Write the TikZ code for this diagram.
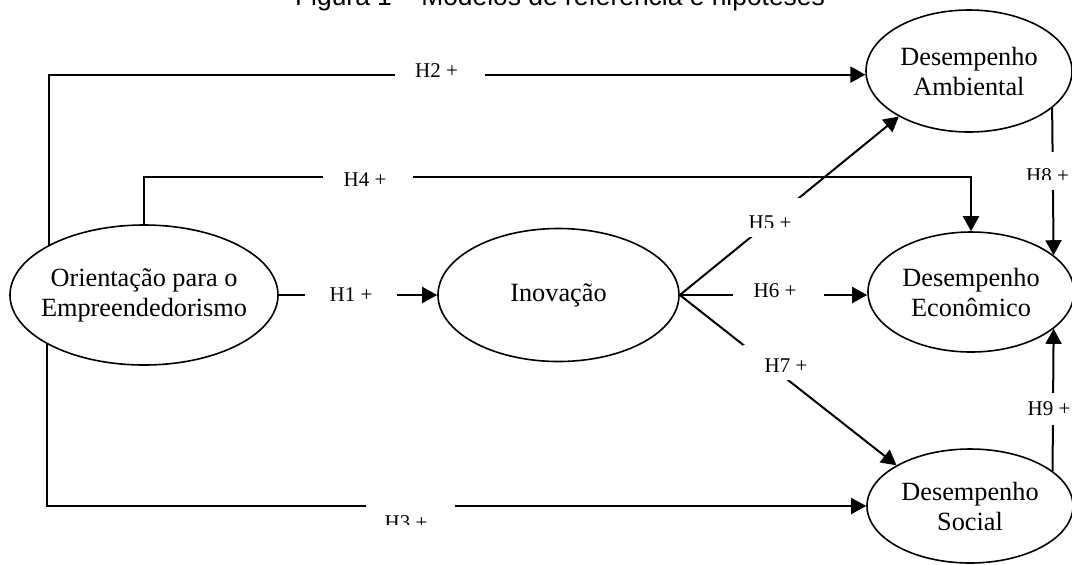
\documentclass[tikz,border=0pt]{standalone}
\usepackage{fontspec}
\setmainfont{Liberation Serif}
\newfontfamily\capfont{Liberation Sans}
\usetikzlibrary{shapes.geometric,arrows.meta}
% zero-width line so the ellipse keeps its given size
\newcommand\nowidth[1]{\makebox[0pt]{#1}}
\begin{document}
\begin{tikzpicture}[x=0.5pt,y=-0.5pt,
  construct/.style={ellipse,draw,line width=0.8pt,inner sep=0pt,align=center,
    font=\fontsize{13.15pt}{15pt}\selectfont},
  link/.style={line width=1pt,-{Triangle[length=7.5pt,width=8pt]}},
  hyp/.style={font=\fontsize{10.5pt}{12pt}\selectfont,inner sep=0pt,anchor=base},
  gapfill/.style={fill=white}]
\clip (0,0) rectangle (1072,564);

% caption
\node[font=\capfont\fontsize{13.2pt}{15pt}\selectfont,anchor=base,inner sep=0pt]
  (title) at (560,5.5) {Figura 1 – Modelos de referência e hipóteses};

% constructs
\node[construct,minimum width=134pt,minimum height=70pt] (OE) at (144,295)
  {\nowidth{Orientação para o}\\\nowidth{Empreendedorismo}};
\node[construct,minimum width=120.5pt,minimum height=66.5pt] (INO) at (558.5,295)
  {\nowidth{Inovação}};
\node[construct,minimum width=103pt,minimum height=61pt] (AMB) at (969,71)
  {\nowidth{Desempenho}\\\nowidth{Ambiental}};
\node[construct,minimum width=103pt,minimum height=60pt] (ECO) at (971,292)
  {\nowidth{Desempenho}\\\nowidth{Econômico}};
\node[construct,minimum width=103pt,minimum height=57pt] (SOC) at (970,506)
  {\nowidth{Desempenho}\\\nowidth{Social}};

% paths
\coordinate (c4) at (144,177);
\draw[link] (OE.152.5) |- (AMB.182);
\draw[link] (OE.north) -- (c4) -| (ECO.north);
\draw[link] (OE.207.5) |- (SOC.west);
\draw[link] (OE.east) -- (INO.west);
\draw[link] (INO.east) -- (AMB.213);
\draw[link] (INO.east) -- (ECO.west |- INO.east);
\draw[link] (INO.east) -- (SOC.151);
\draw[link] (AMB.-24.3) -- (ECO.24.6);
\draw[link] (SOC.23.5) -- (ECO.-24.6);

% hypothesis labels on white patches
\fill[gapfill] (395,66) rectangle (485,82);
\node[hyp] (h2) at (436.5,77) {H2 +};
\fill[gapfill] (323,169) rectangle (413,185);
\node[hyp] (h4) at (365,186) {H4 +};
\fill[gapfill] (305,287) rectangle (397,303);
\node[hyp] (h1) at (351,301) {H1 +};
\fill[gapfill] (733,285) rectangle (824,301);
\node[hyp] (h6) at (775,297) {H6 +};
\fill[gapfill] (1020,393) rectangle (1072,425);
\node[hyp] (h9) at (1049,415) {H9 +};

\fill[gapfill] (740,198) rectangle (805,237);
\begin{scope}
  \clip (740,198) rectangle (805,227);
  \node[hyp] (h5) at (770,229) {H5 +};
\end{scope}
\fill[gapfill] (743,345) rectangle (812,380);
\begin{scope}
  \clip (743,345) rectangle (812,371);
  \node[hyp] (h7) at (786,372) {H7 +};
\end{scope}
\fill[gapfill] (1020,152) rectangle (1072,190);
\begin{scope}
  \clip (1020,152) rectangle (1072,179);
  \node[hyp] (h8) at (1047.5,182) {H8 +};
\end{scope}
\fill[gapfill] (366,500) rectangle (455,528);
\begin{scope}
  \clip (366,500) rectangle (455,524);
  \node[hyp] (h3) at (406,529) {H3 +};
\end{scope}
\end{tikzpicture}
\end{document}
